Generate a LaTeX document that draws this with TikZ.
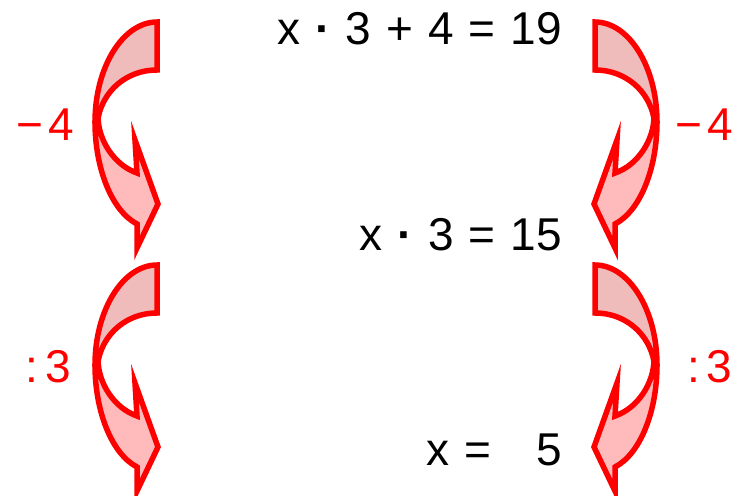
\documentclass[tikz,border=0pt]{standalone}
\usepackage{fontspec}
\setmainfont{Liberation Sans}
\usetikzlibrary{positioning}
\definecolor{backpink}{RGB}{239,187,187}
\definecolor{frontpink}{RGB}{255,187,187}
\newcommand{\mdot}{{\bfseries ·}}
\newcommand{\widespaces}{\spaceskip 15pt\relax}

\begin{document}
\begin{tikzpicture}[
    x=1pt, y=-1pt,
    eqn/.style={anchor=base east, inner sep=0pt, font=\fontsize{46}{52}\selectfont\widespaces},
    oplabel/.style={inner sep=0pt, text=red, font=\fontsize{46}{52}\selectfont},
    curvearrow/.style={draw=red, line width=5.5pt, line join=miter}
]
    \useasboundingbox (0,0) rectangle (732,496);

    % Equations
    \node[eqn] (eq1) at (562,44) {x \mdot{} 3 + 4 = 19};
    \node[eqn] (eq2) at (562,250) {x \mdot{} 3 = 15};
    \node[eqn] (eq3) at (562,465) {x =~~~5};

    % Operations
    \node[oplabel, anchor=base east] (minusL) at (74,140) {−\hspace{5pt}4};
    \node[oplabel, anchor=base west] (minusR) at (675,140) {−\hspace{5pt}4};
    \node[oplabel, anchor=base east] (divL) at (71,382) {:\hspace{7pt}3};
    \node[oplabel, anchor=base west] (divR) at (687,382) {:\hspace{7pt}3};

    % Curved arrows (left side, mirrored on the right)
    \foreach \dy in {0,243}
    \foreach \flip/\dx in {1/0,-1/752} {
        \begin{scope}[shift={(\dx,\dy)}, xscale=\flip]
            % back part
            \path[curvearrow, fill=backpink] (157,22) .. controls (123,22) and (95,67) .. (95,122)
                -- (97,130) .. controls (97,96) and (123,70) .. (157,70) -- cycle;
            % front part with head
            \path[curvearrow, fill=frontpink] (95,122) .. controls (95,169) and (112,211) .. (137,224)
                -- (137,248) -- (158,204) -- (135,140) -- (137,173)
                .. controls (114,165) and (98,140) .. (98,116) -- cycle;
        \end{scope}
    }
\end{tikzpicture}
\end{document}
